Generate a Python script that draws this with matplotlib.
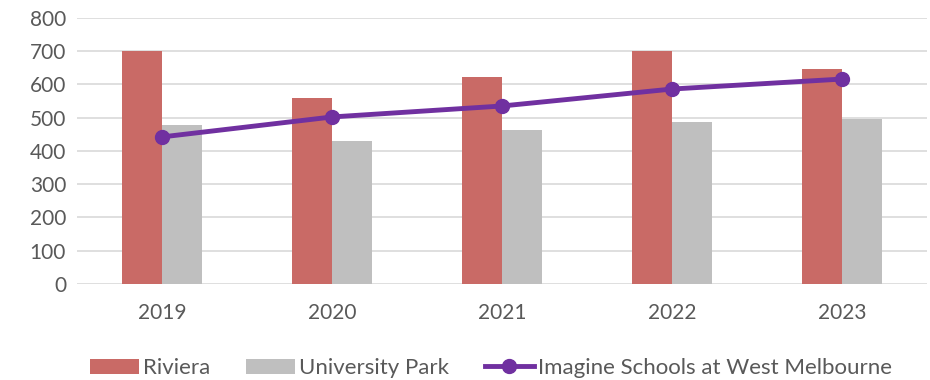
import matplotlib.pyplot as plt
import numpy as np

plt.rcParams['font.family'] = ['Lato', 'DejaVu Sans']

years = ['2019', '2020', '2021', '2022', '2023']
riviera = [700, 560, 623, 700, 646]
univ_park = [478, 430, 463, 487, 497]
imagine = [442, 502, 535, 586, 616]

x = np.arange(len(years))
w = 0.235

fig = plt.figure(figsize=(9.3, 3.8), dpi=100)
ax = fig.add_axes([0.083, 0.253, 0.914, 0.7])

b1 = ax.bar(x - w/2, riviera, w, color='#C96A66', label='Riviera', zorder=2)
b2 = ax.bar(x + w/2, univ_park, w, color='#BFBFBF', label='University Park', zorder=2)
l1, = ax.plot(x, imagine, color='#7030A0', lw=3.5, marker='o', ms=10,
              label='Imagine Schools at West Melbourne', zorder=3)

ax.set_xlim(-0.5, 4.5)
ax.set_ylim(0, 800)
ax.set_yticks(range(0, 801, 100))
ax.set_xticks(x)
ax.set_xticklabels(years)
ax.grid(axis='y', color='#D9D9D9', lw=1.2, zorder=0)
for s in ax.spines.values():
    s.set_visible(False)
ax.tick_params(length=0, labelsize=15, colors='#595959', pad=8)
ax.tick_params(axis='x', pad=14)

fig.legend(handles=[b1, b2, l1], loc='lower center', bbox_to_anchor=(0.528, -0.048),
           ncol=3, frameon=False, fontsize=16, labelcolor='#595959',
           handlelength=2.2, handletextpad=0.2, columnspacing=1.6)

fig.savefig('out.png')
